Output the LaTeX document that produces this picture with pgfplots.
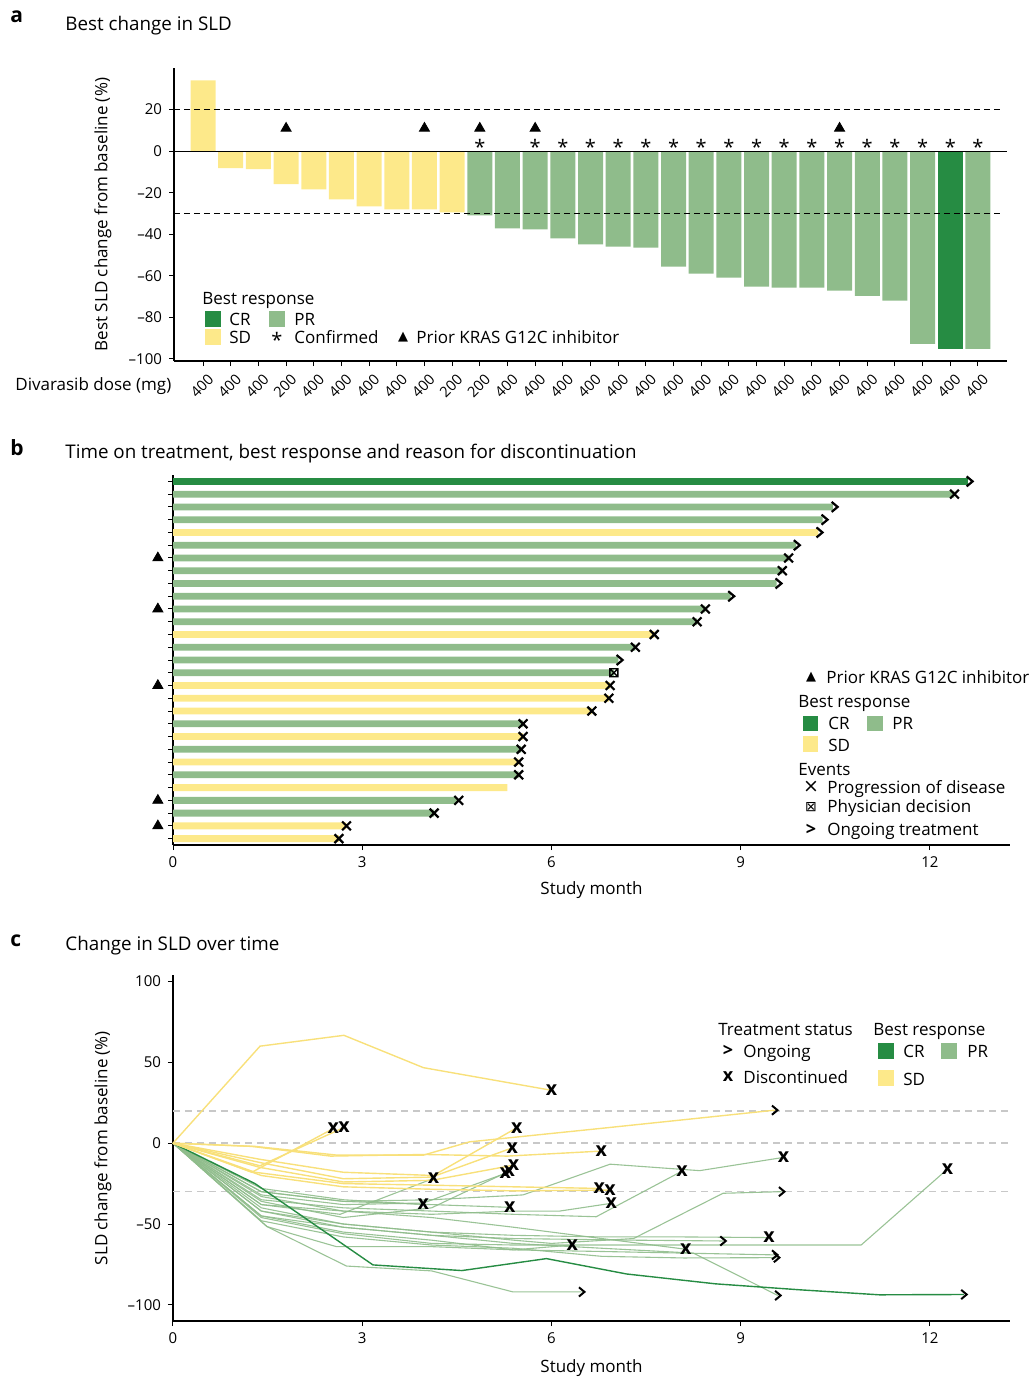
\documentclass[border=0pt]{standalone}
\usepackage{pgfplots}
\pgfplotsset{compat=1.18}
\usepackage{fontspec}
\setmainfont{Open Sans}
\newfontfamily\dejavu{DejaVu Sans}
\definecolor{cr}{HTML}{268C43}
\definecolor{pr}{HTML}{8FBC8B}
\definecolor{sd}{HTML}{FDE98A}
\definecolor{sdl}{HTML}{F8E07A}
\definecolor{refgray}{HTML}{C8C8C8}
\pgfdeclareplotmark{gt}{%
 \pgfpathmoveto{\pgfqpoint{-0.6\pgfplotmarksize}{\pgfplotmarksize}}%
 \pgfpathlineto{\pgfqpoint{0.6\pgfplotmarksize}{0pt}}%
 \pgfpathlineto{\pgfqpoint{-0.6\pgfplotmarksize}{-\pgfplotmarksize}}%
 \pgfusepathqstroke}
\pgfdeclareplotmark{boxx}{%
 \pgfpathrectangle{\pgfqpoint{-\pgfplotmarksize}{-\pgfplotmarksize}}{\pgfqpoint{2\pgfplotmarksize}{2\pgfplotmarksize}}%
 \pgfpathmoveto{\pgfqpoint{-\pgfplotmarksize}{-\pgfplotmarksize}}\pgfpathlineto{\pgfqpoint{\pgfplotmarksize}{\pgfplotmarksize}}%
 \pgfpathmoveto{\pgfqpoint{-\pgfplotmarksize}{\pgfplotmarksize}}\pgfpathlineto{\pgfqpoint{\pgfplotmarksize}{-\pgfplotmarksize}}%
 \pgfusepathqstroke}
\pgfplotsset{
  every axis/.append style={font=\fontsize{8.5}{10}\selectfont},
  tick label style={font=\fontsize{7.5}{9}\selectfont},
  /pgf/number format/assume math mode=true,
  base/.style={scale only axis, anchor=south west, axis lines=left,
    axis line style={-, line width=0.6pt}, tick align=outside,
    major tick length=2.5pt, tick style={black, line width=0.5pt}, clip=false},
  prl/.style={color=pr, line width=0.55pt, opacity=0.9},
  sdln/.style={color=sdl, line width=0.7pt},
  crl/.style={color=cr, line width=0.7pt},
}
\begin{document}
\begin{tikzpicture}
\useasboundingbox (0,0) rectangle (517pt,-689pt);
% ---------------- Panel a ----------------
\begin{axis}[base, at={(87pt,-180.5pt)}, width=416.5pt, height=146.5pt,
  xmin=-1.05, xmax=29.05, ymin=-101, ymax=40,
  ytick={-100,-80,-60,-40,-20,0,20},
  yticklabels={--100,--80,--60,--40,--20,0,20},
  xtick={0,...,28},
  xticklabels={400,400,400,200,400,400,400,400,400,200,200,400,400,400,400,400,400,400,400,400,400,400,400,400,400,400,400,400,400},
  xticklabel style={rotate=45, anchor=east, yshift=-6.5pt, xshift=2.5pt, font=\fontsize{7.3}{8}\selectfont},
  ylabel={Best SLD change from baseline (\%)},
  ylabel style={at={(axis description cs:-0.0852,0.5)}, anchor=center},
]
\addplot[ybar, bar shift=0pt, bar width=12.5pt, fill=sd, draw=none] coordinates {
 (0,34) (1,-8.2) (2,-8.7) (3,-15.9) (4,-18.4) (5,-23.2) (6,-26.6) (7,-28.0) (8,-28.0) (9,-29.5)};
\addplot[ybar, bar shift=0pt, bar width=12.5pt, fill=pr, draw=none] coordinates {
 (10,-30.9) (11,-37.2) (12,-37.7) (13,-42.0) (14,-44.9) (15,-45.9) (16,-46.4) (17,-55.6)
 (18,-58.9) (19,-60.9) (20,-65.2) (21,-65.7) (22,-65.7) (23,-67.1) (24,-69.6) (25,-72.0)
 (26,-92.8) (28,-95.2)};
\addplot[ybar, bar shift=0pt, bar width=12.5pt, fill=cr, draw=none] coordinates {(27,-95.2)};
\addplot[black, line width=0.5pt, dash pattern=on 3pt off 2pt] coordinates {(-1.05,20) (28.9,20)};
\addplot[black, line width=0.5pt, dash pattern=on 3pt off 2pt] coordinates {(-1.05,-30) (28.9,-30)};
\addplot[black, line width=0.6pt] coordinates {(-1.05,0) (29.05,0)};
\addplot[only marks, mark=triangle*, mark size=2.9pt, black] coordinates {(3,11) (8,11) (10,11) (12,11) (23,11)};
\addplot[only marks, mark=text, text mark={*}, text mark as node=true, text mark style={font=\fontsize{10}{10}\selectfont, inner sep=0pt}] coordinates {
 (10,2.2) (12,2.2) (13,2.2) (14,2.2) (15,2.2) (16,2.2) (17,2.2) (18,2.2) (19,2.2) (20,2.2) (21,2.2)
 (22,2.2) (23,2.2) (24,2.2) (25,2.2) (26,2.2) (27,2.2) (28,2.2)};
\end{axis}
% ---------------- Panel b ----------------
\begin{axis}[base, at={(86.5pt,-422.5pt)}, width=418.5pt, height=185pt,
  xmin=0, xmax=13.27, ymin=0.5, ymax=29.5,
  xtick={0,3,6,9,12}, ytick={1,...,29}, yticklabels={},
  xlabel={Study month},
  xlabel style={at={(axis description cs:0.5,-0.1216)}, anchor=center},
]
\addplot[xbar, bar shift=0pt, bar width=3.4pt, fill=cr, draw=none] coordinates {(12.6,29)};
\addplot[xbar, bar shift=0pt, bar width=3.4pt, fill=pr, draw=none] coordinates {
 (12.39,28) (10.46,27) (10.3,26) (9.88,24) (9.76,23) (9.66,22) (9.57,21) (8.84,20) (8.44,19)
 (8.31,18) (7.33,16) (7.06,15) (6.99,14) (5.55,10) (5.52,8) (5.48,6) (4.5,4) (4.14,3)};
\addplot[xbar, bar shift=0pt, bar width=3.4pt, fill=sd, draw=none] coordinates {
 (10.23,25) (7.63,17) (6.93,13) (6.91,12) (6.64,11) (5.55,9) (5.48,7) (5.30,5) (2.75,2) (2.63,1)};
\addplot[only marks, mark=x, mark size=3.1pt, black, line width=1.1pt] coordinates {
 (12.39,28) (9.76,23) (9.66,22) (8.44,19) (8.31,18) (7.63,17) (7.33,16) (6.93,13) (6.91,12)
 (6.64,11) (5.55,10) (5.55,9) (5.52,8) (5.48,7) (5.48,6) (4.53,4) (4.14,3) (2.75,2) (2.63,1)};
\addplot[only marks, mark=gt, mark size=2.5pt, black, line width=1.1pt] coordinates {
 (12.63,29) (10.49,27) (10.33,26) (10.25,25) (9.89,24) (9.6,21) (8.85,20) (7.08,15)};
\addplot[only marks, mark=boxx, mark size=2pt, black, line width=0.7pt] coordinates {(6.99,14)};
\addplot[only marks, mark=triangle*, mark size=2.9pt, black] coordinates {
 (-0.24,23) (-0.24,19) (-0.24,13) (-0.24,4) (-0.24,2)};
\end{axis}
% ---------------- Panel c ----------------
\begin{axis}[base, at={(86.5pt,-660.5pt)}, width=418.5pt, height=173pt,
  xmin=0, xmax=13.27, ymin=-110, ymax=104,
  xtick={0,3,6,9,12}, ytick={-100,-50,0,50,100},
  yticklabels={--100,--50,0,50,100},
  xlabel={Study month},
  xlabel style={at={(axis description cs:0.5,-0.1358)}, anchor=center},
  ylabel={SLD change from baseline (\%)},
  ylabel style={at={(axis description cs:-0.0836,0.5)}, anchor=center},
]
\addplot[refgray, line width=0.8pt, dash pattern=on 3.5pt off 2.5pt] coordinates {(0,20) (13.27,20)};
\addplot[refgray, line width=0.8pt, dash pattern=on 3.5pt off 2.5pt] coordinates {(0,0) (13.27,0)};
\addplot[refgray, line width=0.8pt, dash pattern=on 3.5pt off 2.5pt] coordinates {(0,-30) (13.27,-30)};
% PR lines
\addplot[prl] coordinates {(0,0) (1.4,-45) (2.7,-52) (4.1,-57) (5.4,-62) (6.8,-65) (8.25,-68) (9.59,-94.2)};
\addplot[prl] coordinates {(0,0) (1.49,-51.6) (2.75,-76) (4.1,-79) (5.39,-92) (6.48,-92)};
\addplot[prl] coordinates {(0,0) (1.4,-40) (2.7,-50) (4.1,-55) (5.4,-60) (6.0,-62) (7.3,-59) (8.72,-31) (9.65,-30)};
\addplot[prl] coordinates {(0,0) (1.4,-42) (2.7,-52) (4.1,-57) (5.4,-59) (7.3,-60) (8.72,-60.5)};
\addplot[prl] coordinates {(0,0) (1.4,-45) (2.7,-55) (4.1,-60) (5.4,-66) (6.8,-67) (8.1,-68) (9.54,-69.1)};
\addplot[prl] coordinates {(0,0) (1.4,-48) (2.7,-58) (4.1,-63) (5.4,-65) (6.8,-70) (8.1,-71) (9.57,-70.8)};
\addplot[prl] coordinates {(0,0) (1.4,-46) (2.7,-56) (4.1,-62) (5.4,-63) (6.8,-63) (8.1,-63) (9.5,-63) (10.91,-63) (12.28,-16)};
\addplot[prl] coordinates {(0,0) (1.4,-30) (2.7,-36) (4.1,-35) (5.55,-32) (6.93,-13) (8.35,-17) (9.68,-8.8)};
\addplot[prl] coordinates {(0,0) (1.4,-35) (2.7,-40) (4.1,-42) (5.4,-44) (6.71,-45.5) (8.07,-17.3)};
\addplot[prl] coordinates {(0,0) (1.4,-42) (2.7,-50) (4.1,-55) (5.4,-57) (6.8,-58) (8.1,-58) (9.45,-58.4)};
\addplot[prl] coordinates {(0,0) (1.4,-38) (2.7,-42) (4.1,-46) (5.4,-52) (6.8,-59) (8.13,-65.6)};
\addplot[prl] coordinates {(0,0) (1.49,-51.6) (2.59,-64) (4.1,-64) (5.4,-66) (6.33,-63)};
\addplot[prl] coordinates {(0,0) (1.4,-33) (2.7,-42) (4.1,-44) (5.4,-42) (6.13,-42) (6.95,-37.2)};
\addplot[prl] coordinates {(0,0) (1.4,-30) (2.7,-36) (4.1,-38) (5.34,-39.7)};
\addplot[prl] coordinates {(0,0) (1.4,-32) (2.7,-38) (3.97,-37) (5.27,-18.7)};
\addplot[prl] coordinates {(0,0) (1.4,-36) (2.7,-46) (4.1,-40) (5.33,-17.3)};
\addplot[prl] coordinates {(0,0) (1.4,-28) (2.7,-35) (3.97,-37.9)};
\addplot[prl] coordinates {(0,0) (1.4,-38) (2.65,-44) (4.13,-21.8)};
% CR line
\addplot[crl] coordinates {(0,0) (1.3,-25) (3.17,-75.3) (4.58,-78.8) (5.92,-71.4) (7.19,-80.9) (8.6,-87) (9.94,-90.7) (11.2,-93.8) (12.54,-93.6)};
% SD lines
\addplot[sdln] coordinates {(0,0) (1.38,60) (2.71,66.7) (3.97,46.7) (6.0,32.7)};
\addplot[sdln] coordinates {(0,0) (1.25,-18) (2.54,9)};
\addplot[sdln] coordinates {(0,0) (1.38,-14) (2.71,9.7)};
\addplot[sdln] coordinates {(0,0) (1.3,-2) (2.6,-7.4) (3.97,-7.4) (4.7,0.8) (6.8,9.2) (8.1,14.5) (9.54,20.4)};
\addplot[sdln] coordinates {(0,0) (1.38,-10) (2.7,-18) (4.13,-20) (5.45,9.5)};
\addplot[sdln] coordinates {(0,0) (1.38,-12) (2.7,-22) (4.1,-21) (5.38,-2.9)};
\addplot[sdln] coordinates {(0,0) (1.38,-15) (2.7,-24) (4.1,-23) (5.40,-13.6)};
\addplot[sdln] coordinates {(0,0) (1.25,-2) (2.5,-8) (4.0,-7) (5.3,-8) (6.79,-4.9)};
\addplot[sdln] coordinates {(0,0) (1.3,-18) (2.7,-25) (4.1,-26) (5.4,-27) (6.76,-28)};
\addplot[sdln] coordinates {(0,0) (1.4,-20) (2.7,-27) (4.1,-28.5) (5.4,-29.5) (6.93,-29)};
% markers
\addplot[only marks, mark=text, text mark={x}, text mark as node=true, text mark style={font=\bfseries\fontsize{9.8}{10}\selectfont, inner sep=0pt}] coordinates {
 (6.0,32.7) (2.54,9) (2.71,9.7) (5.45,9.5) (5.38,-2.9) (5.40,-13.6) (6.79,-4.9) (6.76,-28) (6.93,-29)
 (12.28,-16) (9.68,-8.8) (8.07,-17.3) (9.45,-58.4) (8.13,-65.6) (6.33,-63) (6.95,-37.2) (5.34,-39.7)
 (5.27,-18.7) (5.33,-17.3) (3.97,-37.9) (4.13,-21.8)};
\addplot[only marks, mark=gt, mark size=2.3pt, black, line width=1pt] coordinates {
 (9.54,20.4) (12.54,-93.6) (9.59,-94.2) (6.48,-92) (9.65,-30) (8.72,-60.5) (9.54,-69.1) (9.57,-70.8)};
\end{axis}
% ---------------- Text and legends ----------------
\begin{scope}[x=0.5pt, y=-0.5pt]
\tikzset{lab/.style={anchor=base west, inner sep=0pt, font=\fontsize{8.5}{10}\selectfont},
  ttl/.style={anchor=base west, inner sep=0pt, font=\fontsize{9.4}{11}\selectfont},
  let/.style={anchor=base west, inner sep=0pt, font=\bfseries\fontsize{10.5}{12}\selectfont}}
\node[let] at (10,22) {a};
\node[ttl] at (65,30) {Best change in SLD};
\node[let] at (10,455) {b};
\node[ttl] at (65,458) {Time on treatment, best response and reason for discontinuation};
\node[let] at (10,946) {c};
\node[ttl] at (65,950) {Change in SLD over time};
\node[lab] at (15,390) {Divarasib dose (mg)};
% legend a
\node[lab] at (202,304) {Best response};
\fill[cr] (205,311) rectangle (221,327); \node[lab] at (229,325) {CR};
\fill[pr] (269,311) rectangle (285,327); \node[lab] at (294,325) {PR};
\fill[sd] (205,329) rectangle (221,345); \node[lab] at (229,343) {SD};
\node[inner sep=0pt, font=\fontsize{10}{10}\selectfont] at (277,340) {*};
\node[lab] at (294,343) {Confirmed};
\node[inner sep=0pt, font=\dejavu\fontsize{6.5}{7}\selectfont] at (403,337) {▲};
\node[lab] at (416,343) {Prior KRAS G12C inhibitor};
% legend b
\node[inner sep=0pt, font=\dejavu\fontsize{6.5}{7}\selectfont] at (811,677) {▲};
\node[lab] at (826,683) {Prior KRAS G12C inhibitor};
\node[lab] at (798,707) {Best response};
\fill[cr] (803,716) rectangle (818,731); \node[lab] at (828,729) {CR};
\fill[pr] (867,716) rectangle (883,731); \node[lab] at (892,729) {PR};
\fill[sd] (803,736) rectangle (818,752); \node[lab] at (828,751) {SD};
\node[lab] at (798,775) {Events};
\node[inner sep=0pt, font=\dejavu\fontsize{9.5}{9}\selectfont] at (811,787) {×};
\node[lab] at (827,793) {Progression of disease};
\node[inner sep=0pt, font=\dejavu\fontsize{7}{7}\selectfont] at (811,807) {⊠};
\node[lab] at (827,812) {Physician decision};
\node[inner sep=0pt, font=\bfseries\fontsize{9}{9}\selectfont] at (811,830) {>};
\node[lab] at (827,835) {Ongoing treatment};
% legend c
\node[lab] at (718,1035) {Treatment status};
\node[inner sep=0pt, font=\bfseries\fontsize{9}{9}\selectfont] at (728,1051) {>};
\node[lab] at (743,1057) {Ongoing};
\node[inner sep=0pt, font=\bfseries\fontsize{9}{9}\selectfont] at (728,1077) {x};
\node[lab] at (743,1083) {Discontinued};
\node[lab] at (873,1035) {Best response};
\fill[cr] (878,1043) rectangle (894,1059); \node[lab] at (903,1057) {CR};
\fill[pr] (941,1043) rectangle (957,1059); \node[lab] at (967,1057) {PR};
\fill[sd] (878,1070) rectangle (894,1086); \node[lab] at (903,1085) {SD};
\end{scope}
\end{tikzpicture}
\end{document}
